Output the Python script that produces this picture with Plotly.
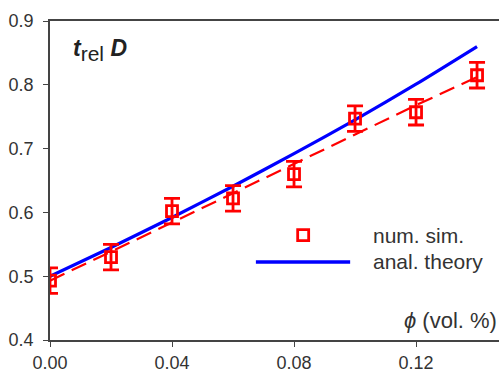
import plotly.graph_objects as go

phi = [0.00, 0.02, 0.04, 0.06, 0.08, 0.10, 0.12, 0.14]
sim_vals = [0.493, 0.530, 0.602, 0.622, 0.660, 0.747, 0.757, 0.815]
sim_err = [0.020, 0.020, 0.020, 0.020, 0.020, 0.020, 0.020, 0.020]
fit_vals = [0.493, 0.538, 0.584, 0.630, 0.676, 0.722, 0.768, 0.812]
theory_vals = [0.500, 0.545, 0.592, 0.641, 0.692, 0.745, 0.801, 0.860]

x_ticks = [0.00, 0.04, 0.08, 0.12]
x_tick_labels = ["0.00", "0.04", "0.08", "0.12"]
y_ticks = [0.4, 0.5, 0.6, 0.7, 0.8, 0.9]
y_tick_labels = ["0.4", "0.5", "0.6", "0.7", "0.8", "0.9"]

FONT = "Liberation Sans, Arial, sans-serif"
TXT = "#333333"

fig = go.Figure()

fig.add_trace(go.Scatter(
    x=phi, y=fit_vals, mode="lines",
    line=dict(color="#ff0000", width=2.2, dash="16px,8px"),
    showlegend=False, hoverinfo="skip"))

fig.add_trace(go.Scatter(
    x=phi, y=theory_vals, mode="lines",
    line=dict(color="#0000ff", width=3.2, shape="spline", smoothing=0.6),
    showlegend=False, hoverinfo="skip"))

fig.add_trace(go.Scatter(
    x=phi, y=sim_vals, mode="markers",
    marker=dict(symbol="square-open", size=11, color="#ff0000", line=dict(width=2.8, color="#ff0000")),
    error_y=dict(type="data", array=sim_err, visible=True, color="#ff0000", thickness=2.8, width=8),
    showlegend=False, hoverinfo="skip"))

# legend entries (manual, placed in data coords)
fig.add_trace(go.Scatter(
    x=[0.0830], y=[0.5645], mode="markers",
    marker=dict(symbol="square-open", size=11, color="#ff0000", line=dict(width=2.8, color="#ff0000")),
    showlegend=False, hoverinfo="skip"))
fig.add_trace(go.Scatter(
    x=[0.0675, 0.0984], y=[0.5223, 0.5223], mode="lines",
    line=dict(color="#0000ff", width=3.4),
    showlegend=False, hoverinfo="skip"))

fig.add_annotation(x=0.1052, y=0.5645, xref="x", yref="y", text="num. sim.",
                   showarrow=False, xanchor="left", yanchor="middle",
                   font=dict(family=FONT, size=21, color=TXT))
fig.add_annotation(x=0.1052, y=0.5223, xref="x", yref="y", text="anal. theory",
                   showarrow=False, xanchor="left", yanchor="middle",
                   font=dict(family=FONT, size=21, color=TXT))

fig.add_annotation(x=0.0068, y=0.855, xref="x", yref="y",
                   text="<b><i>t</i></b><sub><span style='font-size:21px'>rel</span></sub> <b><i>D</i></b>",
                   showarrow=False, xanchor="left", yanchor="middle",
                   font=dict(family=FONT, size=23, color="#222222"))

fig.add_annotation(x=1.0, y=0.431, xref="paper", yref="y",
                   text="<i>ϕ</i> (vol. %)",
                   showarrow=False, xanchor="right", yanchor="middle",
                   font=dict(family=FONT, size=22, color=TXT))

fig.update_layout(
    width=499, height=374,
    margin=dict(l=50, r=0, t=21, b=34),
    paper_bgcolor="white", plot_bgcolor="white",
    showlegend=False,
)
fig.update_xaxes(
    range=[0, 0.1472], tickvals=x_ticks, ticktext=x_tick_labels,
    showline=True, linecolor="#444444", linewidth=1.5, mirror=True,
    ticks="outside", ticklen=5, tickcolor="#444444", tickwidth=1,
    showgrid=False, zeroline=False, automargin=False,
    tickfont=dict(family=FONT, size=18, color=TXT),
    ticklabelstandoff=1,
)
fig.update_yaxes(
    range=[0.4, 0.9], tickvals=y_ticks, ticktext=y_tick_labels,
    showline=True, linecolor="#444444", linewidth=1.5,
    ticks="outside", ticklen=5, tickcolor="#444444", tickwidth=1,
    showgrid=False, zeroline=False, automargin=False,
    tickfont=dict(family=FONT, size=18, color=TXT),
    ticklabelstandoff=6,
)

fig.write_html("out.html")
